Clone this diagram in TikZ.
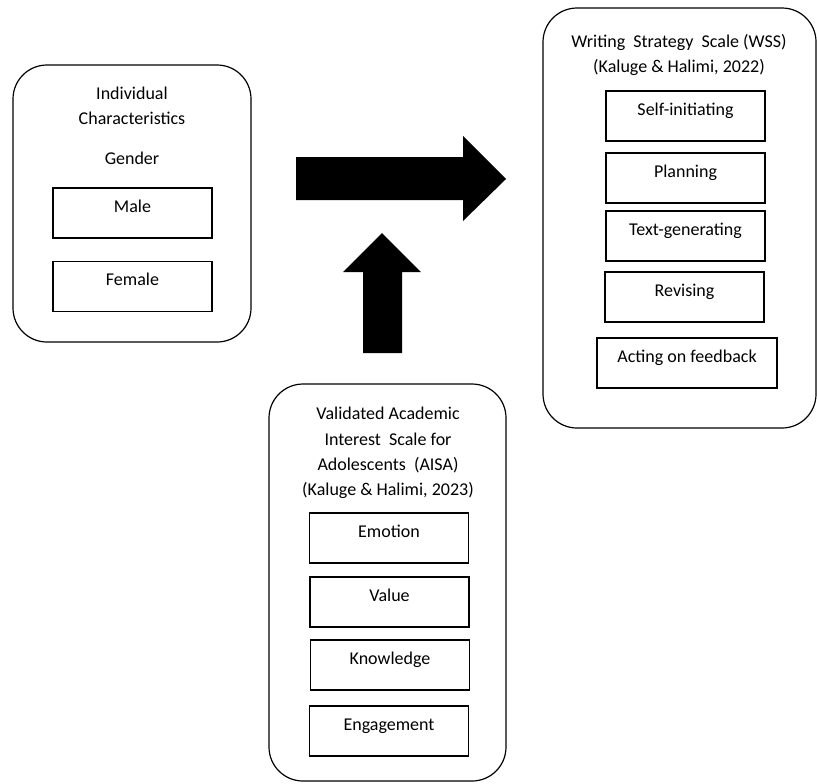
\documentclass[tikz,border=0pt]{standalone}
\usepackage{fontspec}
\setmainfont{Carlito}
\usetikzlibrary{positioning}

\tikzset{
  panel/.style={draw,line width=0.6pt,rounded corners=17pt,inner sep=0pt},
  itembox/.style={draw,line width=0.6pt,inner sep=0pt,minimum width=79.5pt,minimum height=25pt,
    text height=12pt,text depth=13pt},
  heading/.style={align=center,inner sep=0pt}
}

\begin{document}
\begin{tikzpicture}[x=0.5pt,y=-0.5pt,font=\fontsize{9}{12.7}\selectfont]
  \useasboundingbox (0,0) rectangle (817,783);

  % individual characteristics
  \node[panel,minimum width=119pt,minimum height=138.5pt] (indiv) at (132,203.5) {};
  \node[heading] (indivtitle) at (132,106) {Individual\\Characteristics};
  \node[heading] (gender) at (132,158) {Gender};
  \node[itembox] (male) at (132.5,213) {Male};
  \node[itembox] (female) at (132.5,286.5) {Female};

  % writing strategy scale
  \node[panel,minimum width=136.5pt,minimum height=210pt] (wss) at (679.5,218) {};
  \node[heading] (wsstitle) at (679,55) {Writing\ \ Strategy\ \ Scale (WSS)\\(Kaluge \& Halimi, 2022)};
  \node[itembox] (selfinit) at (685.5,116) {Self-initiating};
  \node[itembox] (planning) at (685.5,178) {Planning};
  \node[itembox] (textgen) at (685.5,236) {Text-generating};
  \node[itembox] (revising) at (684.5,297) {Revising};
  \node[itembox,minimum width=90pt] (feedback) at (687,363) {Acting on feedback};

  % academic interest scale
  \node[panel,minimum width=118.5pt,minimum height=198.5pt] (aisa) at (387.5,582.5) {};
  \node[heading] (aisatitle) at (388,453) {Validated Academic\\Interest\ \ Scale for\\Adolescents\ \ (AISA)\\(Kaluge \& Halimi, 2023)};
  \node[itembox] (emotion) at (389,538) {Emotion};
  \node[itembox] (value) at (389.5,602) {Value};
  \node[itembox] (knowledge) at (390,665) {Knowledge};
  \node[itembox] (engagement) at (389,731) {Engagement};

  % block arrows
  \fill (296,157) -- (463,157) -- (463,136) -- (506,179) -- (463,221) -- (463,200) -- (296,200) -- cycle;
  \fill (363,353) -- (363,272) -- (343,272) -- (382,233) -- (421,272) -- (402,272) -- (402,353) -- cycle;
\end{tikzpicture}
\end{document}
